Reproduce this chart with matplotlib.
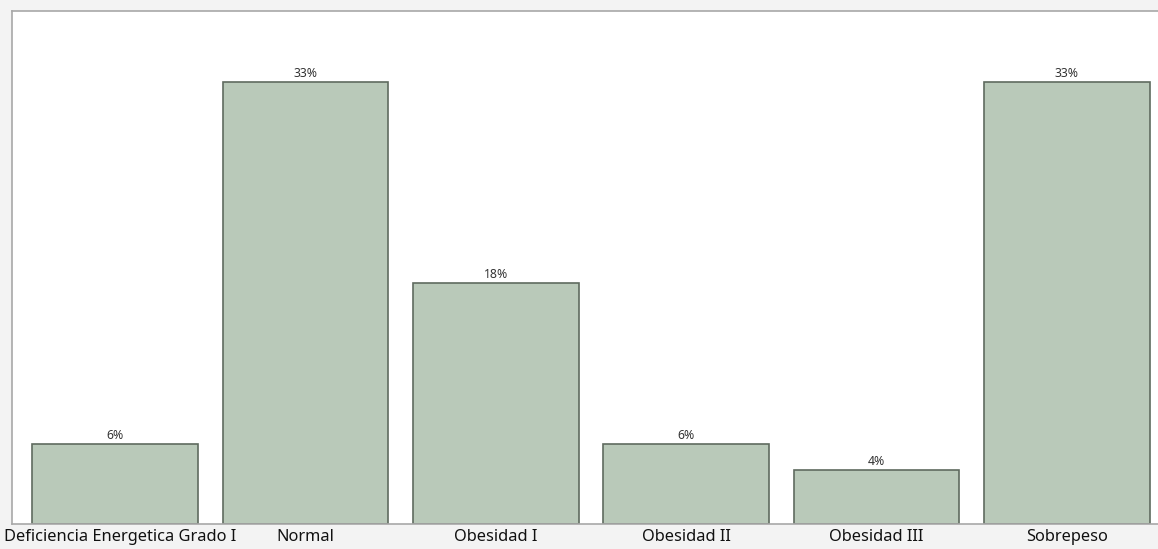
import matplotlib
matplotlib.use("Agg")
import matplotlib.pyplot as plt
import matplotlib.transforms as mtransforms

categories = ["Deficiencia Energetica Grado I", "Normal", "Obesidad I",
              "Obesidad II", "Obesidad III", "Sobrepeso"]
values = [6, 33, 18, 6, 4, 33]
labels = ["6%", "33%", "18%", "6%", "4%", "33%"]

W, H = 1158, 549
fig = plt.figure(figsize=(W / 100, H / 100), dpi=100, facecolor="#f3f3f3")
left, right, top, bottom = 12, 1170, 11, 524
ax = fig.add_axes([left / W, 1 - bottom / H, (right - left) / W, (bottom - top) / H])
ax.set_facecolor("white")

x = list(range(len(categories)))
bars = ax.bar(x, values, width=0.87, color="#b9c9b9", edgecolor="#5f6b5f", linewidth=1.2)
for b, lab in zip(bars, labels):
    ax.text(b.get_x() + b.get_width() / 2, b.get_height() + 0.15, lab,
            ha="center", va="bottom", fontsize=8.8, color="#333333", family="Noto Sans")

ax.set_xlim(-0.541, 5.542)
ax.set_ylim(0, 38.3)
ax.set_yticks([])
ax.set_xticks(x)
ax.set_xticklabels(categories, fontsize=11.8, family="Noto Sans", color="#111111")
ax.tick_params(axis="x", length=0, pad=3.5)

# keep the long first label inside the figure edge
first = ax.get_xticklabels()[0]
first.set_transform(first.get_transform() +
                    mtransforms.ScaledTranslation(5.5 / 100, 0, fig.dpi_scale_trans))

for s in ax.spines.values():
    s.set_color("#a8a8a8")
    s.set_linewidth(1.2)

fig.savefig("out.png", dpi=100, facecolor=fig.get_facecolor())
